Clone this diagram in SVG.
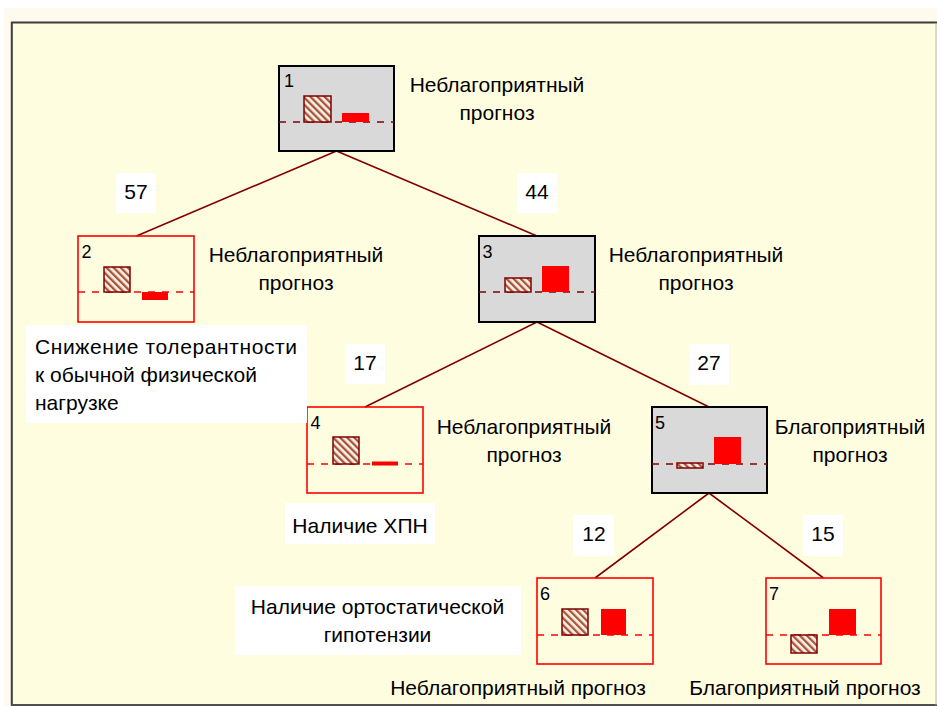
<svg xmlns="http://www.w3.org/2000/svg" width="937" height="706" viewBox="0 0 937 706">
<defs>
<pattern id="hatch" patternUnits="userSpaceOnUse" width="5" height="5" patternTransform="rotate(-45)">
<rect width="5" height="5" fill="#faf0e6"/>
<rect width="2.3" height="5" fill="#a4553a"/>
</pattern>
<style>
.edge{stroke:#800000;stroke-width:1.6;fill:none}
.gray{fill:#d9d9d9;stroke:#000;stroke-width:2}
.red{fill:none;stroke:#ff0000;stroke-width:1.6}
.dd{stroke:#800000;stroke-width:1.5;stroke-dasharray:7 7;fill:none}
.dr{stroke:#ff0000;stroke-width:1.5;stroke-dasharray:7 7;fill:none}
.hb{fill:url(#hatch);stroke:#800000;stroke-width:1.5}
.rb{fill:#ff0000}
.num{font-family:"Liberation Sans",Arial,sans-serif;font-size:18px;fill:#000}
.lbl{font-family:"Liberation Sans",Arial,sans-serif;font-size:21px;fill:#000;text-anchor:middle}
.txt{font-family:"Liberation Sans",Arial,sans-serif;font-size:21px;fill:#000}
.wb{fill:#fff}
</style>
</defs>
<rect x="0" y="0" width="937" height="706" fill="#fff"/>
<rect x="4" y="8" width="933" height="698" fill="#fff9ee"/>
<rect x="11" y="22" width="926" height="684" fill="#fffde0"/>
<line x1="11" y1="22.5" x2="937" y2="22.5" stroke="#3c3c3c" stroke-width="2"/>
<line x1="11.8" y1="22" x2="11.8" y2="706" stroke="#3c3c3c" stroke-width="2"/>
<line x1="11" y1="705" x2="937" y2="705" stroke="#505050" stroke-width="2"/>
<line x1="936" y1="23" x2="936" y2="705" stroke="#b8b8a0" stroke-width="1"/>

<g id="connectors">
<line class="edge" x1="336.5" y1="151" x2="136.5" y2="236"/>
<line class="edge" x1="336.5" y1="151" x2="537" y2="236"/>
<line class="edge" x1="537" y1="322" x2="365" y2="407"/>
<line class="edge" x1="537" y1="322" x2="709" y2="407"/>
<line class="edge" x1="709" y1="493" x2="595" y2="578"/>
<line class="edge" x1="709" y1="493" x2="823.5" y2="578"/>
</g>

<g id="edge-labels">
<rect class="wb" x="116" y="173" width="40" height="40"/><text class="lbl" x="136" y="199">57</text>
<rect class="wb" x="517" y="173" width="40" height="40"/><text class="lbl" x="537" y="199">44</text>
<rect class="wb" x="345" y="344" width="40" height="40"/><text class="lbl" x="365" y="370">17</text>
<rect class="wb" x="689" y="344" width="40" height="41"/><text class="lbl" x="709" y="370">27</text>
<rect class="wb" x="573" y="515" width="41" height="41"/><text class="lbl" x="594" y="541">12</text>
<rect class="wb" x="803" y="515" width="40" height="41"/><text class="lbl" x="823" y="541">15</text>
</g>

<g id="node1">
<rect class="gray" x="279" y="66" width="115" height="85"/>
<text class="num" x="284" y="87">1</text>
<line class="dd" x1="279" y1="122" x2="394" y2="122"/>
<rect class="hb" x="304" y="96" width="27" height="26"/>
<rect class="rb" x="342" y="113" width="27" height="9"/>
<text class="lbl" x="497" y="91.5">Неблагоприятный</text>
<text class="lbl" x="497" y="119.5">прогноз</text>
</g>

<g id="node2">
<rect class="red" x="78" y="236" width="116" height="86"/>
<text class="num" x="81.5" y="258">2</text>
<line class="dr" x1="78" y1="292" x2="194" y2="292"/>
<rect class="hb" x="104" y="267" width="26" height="25"/>
<rect class="rb" x="142" y="292" width="26" height="8"/>
<text class="lbl" x="296" y="261.5">Неблагоприятный</text>
<text class="lbl" x="296" y="289.5">прогноз</text>
</g>

<g id="node3">
<rect class="gray" x="479" y="236" width="116" height="86"/>
<text class="num" x="482.5" y="258">3</text>
<line class="dd" x1="479" y1="292" x2="595" y2="292"/>
<rect class="hb" x="505" y="278" width="26" height="14"/>
<rect class="rb" x="542" y="266" width="27" height="26"/>
<text class="lbl" x="696" y="261.5">Неблагоприятный</text>
<text class="lbl" x="696" y="289.5">прогноз</text>
</g>

<g id="node4">
<rect class="red" x="307" y="407" width="116" height="86"/>
<text class="num" x="310.5" y="429">4</text>
<line class="dr" x1="307" y1="464" x2="423" y2="464"/>
<rect class="hb" x="333" y="437" width="26" height="27"/>
<rect class="rb" x="372" y="461.5" width="26" height="4"/>
<text class="lbl" x="524" y="434">Неблагоприятный</text>
<text class="lbl" x="524" y="462">прогноз</text>
</g>

<g id="node5">
<rect class="gray" x="652" y="407" width="115" height="86"/>
<text class="num" x="655" y="429">5</text>
<line class="dd" x1="652" y1="464" x2="767" y2="464"/>
<rect class="hb" x="677" y="463" width="26" height="5"/>
<rect class="rb" x="714" y="437" width="27" height="27"/>
<text class="lbl" x="850" y="434">Благоприятный</text>
<text class="lbl" x="850" y="462">прогноз</text>
</g>

<g id="node6">
<rect class="red" x="537" y="578" width="116" height="86"/>
<text class="num" x="540" y="599.5">6</text>
<line class="dr" x1="537" y1="635" x2="653" y2="635"/>
<rect class="hb" x="562" y="609" width="26" height="26"/>
<rect class="rb" x="601" y="609" width="25" height="26"/>
<text class="lbl" x="518" y="695">Неблагоприятный прогноз</text>
</g>

<g id="node7">
<rect class="red" x="766" y="578" width="115" height="86"/>
<text class="num" x="769" y="600">7</text>
<line class="dr" x1="766" y1="635" x2="881" y2="635"/>
<rect class="hb" x="791" y="635" width="26" height="18"/>
<rect class="rb" x="829" y="609" width="27" height="26"/>
<text class="lbl" x="805" y="695">Благоприятный прогноз</text>
</g>

<g id="split-labels">
<rect class="wb" x="26" y="325" width="281" height="98"/>
<text class="txt" x="35" y="354" textLength="262" lengthAdjust="spacing">Снижение толерантности</text>
<text class="txt" x="35" y="382">к обычной физической</text>
<text class="txt" x="35" y="410">нагрузке</text>
<rect class="wb" x="285" y="503" width="150" height="41"/>
<text class="lbl" x="360" y="533">Наличие ХПН</text>
<rect class="wb" x="235" y="586" width="286" height="69"/>
<text class="lbl" x="377.5" y="613.5">Наличие ортостатической</text>
<text class="lbl" x="377.5" y="641.5">гипотензии</text>
</g>
</svg>
